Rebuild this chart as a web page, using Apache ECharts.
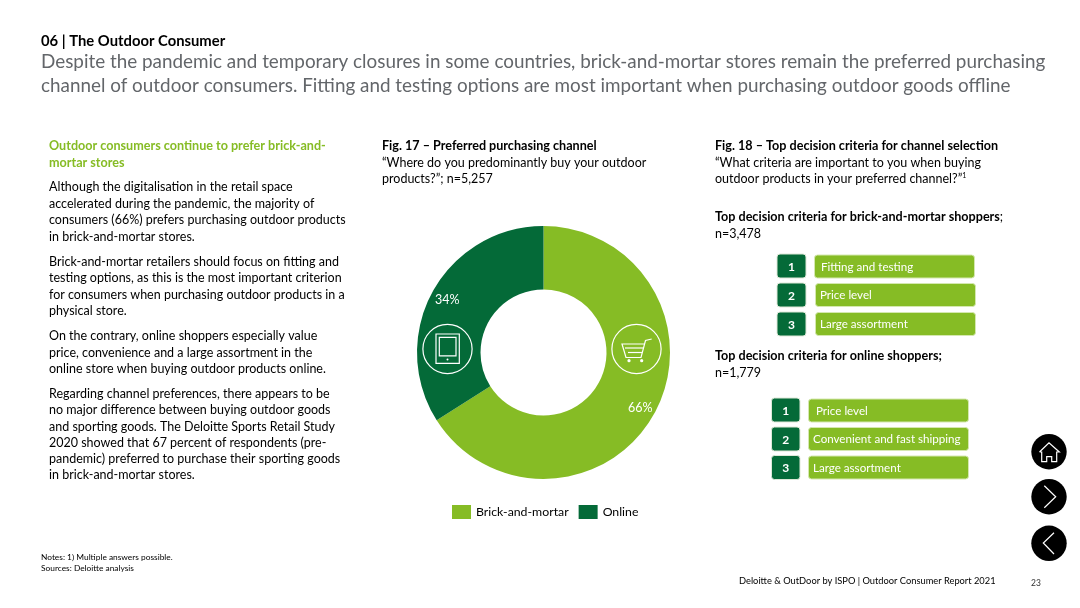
<!DOCTYPE html>
<html>
<head>
<meta charset="utf-8">
<title>Outdoor Consumer</title>
<script src="https://cdn.jsdelivr.net/npm/echarts@6/dist/echarts.min.js"></script>
<style>
html, body { margin: 0; padding: 0; background: #fff; }
#main { width: 1080px; height: 608px; }
</style>
</head>
<body>
<div id="main"></div>
<script>
const channels = ['Brick-and-mortar', 'Online'];
const channelShare = [66, 34];
const channelColors = ['#86BC25', '#046A38'];

const brickCriteria = ['Fitting and testing', 'Price level', 'Large assortment'];
const onlineCriteria = ['Price level', 'Convenient and fast shipping', 'Large assortment'];

const headLines = [
    'Despite the pandemic and temporary closures in some countries, brick-and-mortar stores remain the preferred purchasing',
    'channel of outdoor consumers. Fitting and testing options are most important when purchasing outdoor goods offline'
];
const leftHead = ['Outdoor consumers continue to prefer brick-and-', 'mortar stores'];
const leftBody = [
    ['Although the digitalisation in the retail space', 186],
    ['accelerated during the pandemic, the majority of', 203],
    ['consumers (66%) prefers purchasing outdoor products', 219],
    ['in brick-and-mortar stores.', 236],
    ['Brick-and-mortar retailers should focus on fitting and', 261],
    ['testing options, as this is the most important criterion', 277],
    ['for consumers when purchasing outdoor products in a', 294],
    ['physical store.', 310],
    ['On the contrary, online shoppers especially value', 335],
    ['price, convenience and a large assortment in the', 352],
    ['online store when buying outdoor products online.', 368],
    ['Regarding channel preferences, there appears to be', 393],
    ['no major difference between buying outdoor goods', 409],
    ['and sporting goods. The Deloitte Sports Retail Study', 426],
    ['2020 showed that 67 percent of respondents (pre-', 442],
    ['pandemic) preferred to purchase their sporting goods', 458],
    ['in brick-and-mortar stores.', 474]
];

const FONT = 'Lato, sans-serif';
const GREEN = '#86BC25';
const DARK = '#046A38';
const BODY = 12.5;
const BOLD = 12.6;

function txt(text, x, y, size, color, weight, extra) {
    return {
        type: 'text',
        x: x,
        y: y + 0.7,
        silent: true,
        style: Object.assign({
            text: text,
            fill: color || '#000',
            font: (weight || 'normal') + ' ' + size + 'px ' + FONT,
            verticalAlign: 'middle'
        }, extra || {})
    };
}

function box(x, y, w, h, r, fill, stroke) {
    return {
        type: 'rect',
        silent: true,
        shape: { x: x, y: y, width: w, height: h, r: r },
        style: { fill: fill, stroke: stroke || null, lineWidth: stroke ? 1 : 0 }
    };
}

function line(points, color, width, z) {
    return {
        type: 'polyline',
        silent: true,
        z: z || 5,
        shape: { points: points },
        style: { stroke: color, fill: null, lineWidth: width }
    };
}

// ranking rows, dark number box + green bar
function rankRows(items, layout) {
    let out = [];
    items.forEach((name, i) => {
        let l = layout[i];
        out.push(box(l.nx, l.ny, l.nw, 24, 3, DARK, '#dfe8d8'));
        out.push(box(l.bx, l.by, 160, 23, 3, GREEN, '#d5e8b0'));
        out.push(txt(String(i + 1), l.nx + l.nw / 2, l.ny + 12.3, 12, '#fff', 'bold', { align: 'center' }));
        out.push(txt(name, l.tx, l.by + 11.5, 11.6, '#fff'));
    });
    return out;
}

const brickLayout = [
    { nx: 777, ny: 254, nw: 29, bx: 814.5, by: 255, tx: 821 },
    { nx: 777, ny: 283, nw: 29, bx: 815.5, by: 283.5, tx: 820 },
    { nx: 777, ny: 312, nw: 29, bx: 815.5, by: 312.5, tx: 820 }
];
const onlineLayout = [
    { nx: 771.5, ny: 398, nw: 28.5, bx: 808.5, by: 399, tx: 816 },
    { nx: 771.5, ny: 427, nw: 28.5, bx: 808.5, by: 427.5, tx: 813 },
    { nx: 771.5, ny: 455.5, nw: 28.5, bx: 808.5, by: 456, tx: 813 }
];

function navButtons() {
    let out = [];
    [[1049, 451.7], [1049, 496.7], [1049, 543.3]].forEach(c => {
        out.push({ type: 'circle', silent: true, shape: { cx: c[0], cy: c[1], r: 17.7 }, style: { fill: '#000' } });
    });
    // home
    out.push(line([[1039.5, 452], [1049, 442.7], [1059.3, 452], [1056.7, 452], [1056.7, 461.7], [1051.7, 461.7], [1051.7, 456.7], [1046.7, 456.7], [1046.7, 461.7], [1041.7, 461.7], [1041.7, 452], [1039.5, 452]], '#fff', 1.2));
    // next, back
    out.push(line([[1044.3, 485.7], [1055.7, 496.7], [1044.3, 507.7]], '#fff', 1.2));
    out.push(line([[1054, 532.7], [1043.3, 543], [1054, 554]], '#fff', 1.2));
    return out;
}

function pieIcons() {
    let out = [];
    // tablet icon
    out.push({ type: 'circle', silent: true, z: 5, shape: { cx: 447.5, cy: 349, r: 24.6 }, style: { fill: null, stroke: '#fff', lineWidth: 1.2 } });
    out.push({ type: 'rect', silent: true, z: 5, shape: { x: 436, y: 334, width: 23.3, height: 29.3 }, style: { fill: null, stroke: '#fff', lineWidth: 1.2 } });
    out.push({ type: 'rect', silent: true, z: 5, shape: { x: 439.3, y: 337.3, width: 16.7, height: 18.5 }, style: { fill: null, stroke: '#fff', lineWidth: 1.2 } });
    out.push({ type: 'circle', silent: true, z: 5, shape: { cx: 447.5, cy: 359.5, r: 1 }, style: { fill: '#fff' } });
    // cart icon
    out.push({ type: 'circle', silent: true, z: 5, shape: { cx: 636.5, cy: 349, r: 24.6 }, style: { fill: null, stroke: '#fff', lineWidth: 1.2 } });
    out.push(line([[651.7, 339], [645.5, 340.5], [641, 357.5], [626, 357.5], [622, 344], [645, 344]], '#fff', 1.2));
    out.push(line([[625, 348], [643, 348]], '#fff', 1.2));
    out.push(line([[628, 352.5], [642, 352.5]], '#fff', 1.2));
    out.push({ type: 'circle', silent: true, z: 5, shape: { cx: 629, cy: 360.7, r: 1.6 }, style: { fill: '#fff' } });
    out.push({ type: 'circle', silent: true, z: 5, shape: { cx: 641.7, cy: 360.7, r: 1.6 }, style: { fill: '#fff' } });
    return out;
}

let elements = [
    txt('06 | The Outdoor Consumer', 41, 40.5, 14.8, '#000', 'bold'),
    txt(headLines[0], 41, 61, 18.88, '#63666A'),
    txt(headLines[1], 41, 85.5, 18.88, '#63666A'),
    txt(leftHead[0], 49, 145, BOLD, GREEN, 'bold'),
    txt(leftHead[1], 49, 162, BOLD, GREEN, 'bold'),
    txt('Fig. 17 \u2013 Preferred purchasing channel', 382, 145, BOLD, '#000', 'bold'),
    txt('\u201CWhere do you predominantly buy your outdoor', 382, 162, BODY),
    txt('products?\u201D; n=5,257', 382, 178, BODY),
    txt('Fig. 18 \u2013 Top decision criteria for channel selection', 715, 145, BOLD, '#000', 'bold'),
    txt('\u201CWhat criteria are important to you when buying', 715, 162, BODY),
    txt('outdoor products in your preferred channel?\u201D{s|1}', 715, 178, BODY, '#000', 'normal', {
        rich: { s: { fontSize: 7, fontFamily: FONT, fill: '#000', padding: [0, 0, 5, 0] } }
    }),
    txt('Top decision criteria for brick-and-mortar shoppers{n|;}', 715, 216, BOLD, '#000', 'bold', {
        rich: { n: { fontSize: BODY, fontFamily: FONT, fontWeight: 'normal', fill: '#000' } }
    }),
    txt('n=3,478', 715, 233, BODY),
    txt('Top decision criteria for online shoppers;', 715, 355, BOLD, '#000', 'bold'),
    txt('n=1,779', 715, 372, BODY),
    txt('Notes: 1) Multiple answers possible.', 41, 557, 8.35),
    txt('Sources: Deloitte analysis', 41, 568, 8.35),
    txt('Deloitte & OutDoor by ISPO | Outdoor Consumer Report 2021', 739, 580, 9.3),
    txt('23', 1031, 583, 8.5, '#333')
];
leftBody.forEach(l => elements.push(txt(l[0], 49, l[1], BODY)));
elements = elements.concat(rankRows(brickCriteria, brickLayout), rankRows(onlineCriteria, onlineLayout), navButtons(), pieIcons());

const myChart = echarts.init(document.getElementById('main'));
myChart.setOption({
    animation: false,
    backgroundColor: '#fff',
    legend: {
        data: channels,
        left: 452,
        top: 505,
        icon: 'rect',
        itemWidth: 19,
        itemHeight: 14,
        itemGap: 10,
        selectedMode: false,
        padding: 0,
        textStyle: { fontFamily: FONT, fontSize: 12.3, color: '#000', padding: [3, 0, 0, 0] }
    },
    series: [{
        type: 'pie',
        center: [543.5, 352.5],
        radius: [63, 126.5],
        startAngle: 90,
        clockwise: true,
        silent: true,
        itemStyle: { borderWidth: 0 },
        label: {
            position: 'inside',
            formatter: '{d}%',
            color: '#fff',
            fontFamily: FONT,
            fontSize: BODY
        },
        labelLine: { show: false },
        labelLayout: params => params.dataIndex === 0 ? { dx: 11, dy: 8 } : { dx: -10.5, dy: -5.5 },
        data: channels.map((name, i) => ({
            name: name,
            value: channelShare[i],
            itemStyle: { color: channelColors[i] }
        }))
    }],
    graphic: { elements: elements }
});
window.addEventListener('resize', () => myChart.resize());
</script>
</body>
</html>
